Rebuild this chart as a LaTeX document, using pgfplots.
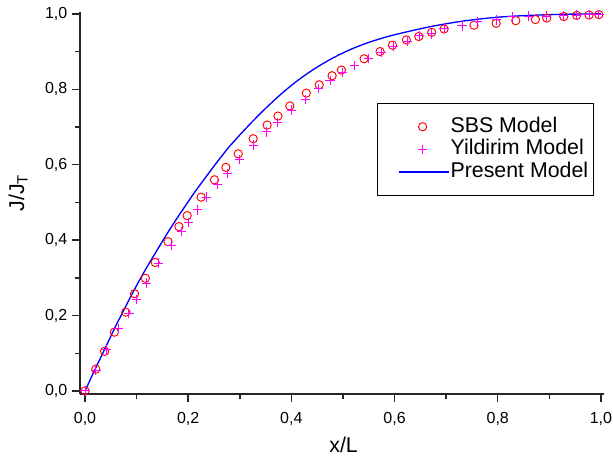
\documentclass[border=0pt]{standalone}
\usepackage{fontspec}
\setmainfont{Liberation Sans}
\usepackage{pgfplots}
\pgfplotsset{compat=1.18}
\definecolor{sbsred}{rgb}{1,0,0}
\definecolor{yilmag}{rgb}{1,0,1}
\definecolor{presblue}{rgb}{0,0,1}
\pgfplotsset{
  markleg/.style={legend image code/.code={\path[draw=none,fill=none] (0pt,0pt) rectangle (50pt,0pt);\draw[##1] plot coordinates {(30.5pt,0pt)};}},
  lineleg/.style={legend image code/.code={\path[draw=none,fill=none] (0pt,0pt) rectangle (50pt,0pt);\draw[##1] (13pt,0pt) -- (50pt,0pt);}}
}
\begin{document}
\begin{tikzpicture}
\useasboundingbox (-60pt,-49.5pt) rectangle (399.75pt,295.5pt);
\begin{axis}[
  scale only axis,
  width=393pt, height=286.5pt,
  at={(0,0)}, anchor=south west,
  xmin=-0.0097, xmax=1.006,
  ymin=-0.008, ymax=1.005,
  axis lines*=left,
  axis line style={line width=1.1pt, color=black!85},
  xtick={0,0.2,...,1.0}, ytick={0,0.2,...,1.0},
  minor x tick num=1, minor y tick num=1,
  tick align=outside,
  major tick length=6pt, minor tick length=4pt,
  every tick/.style={line width=1.1pt, color=black!85},
  /pgf/number format/assume math mode=true,
  /pgf/number format/use comma,
  /pgf/number format/fixed,
  /pgf/number format/fixed zerofill,
  /pgf/number format/precision=1,
  tick label style={font=\fontsize{12}{13}\selectfont},
  xticklabel style={yshift=-4pt},
  xlabel={x/L}, ylabel={J/J\textsubscript{T}},
  label style={font=\fontsize{16}{17}\selectfont},
  xlabel style={at={(rel axis cs:0.503,-0.134)}, anchor=center},
  ylabel style={at={(rel axis cs:-0.118,0.526)}, anchor=center},
  legend style={at={(rel axis cs:0.981,0.762)}, anchor=north east,
    draw=black, line width=0.8pt, inner xsep=3pt, inner ysep=9pt,
    font=\fontsize{16}{17}\selectfont,
    nodes={inner sep=1pt, text height=11.5pt, text depth=3.5pt},
    row sep=0pt},
  legend cell align=left,
]
\addplot[only marks, mark=o, mark size=3.1pt, color=sbsred, mark options={line width=0.7pt}, markleg]
coordinates {
(0,0) (0.021,0.058) (0.038,0.105) (0.057,0.156) (0.079,0.209) (0.096,0.258)
(0.117,0.299) (0.136,0.341) (0.161,0.396) (0.182,0.436) (0.198,0.465)
(0.225,0.514) (0.251,0.560) (0.273,0.593) (0.297,0.629) (0.326,0.669)
(0.353,0.705) (0.374,0.729) (0.397,0.756) (0.429,0.790) (0.454,0.812)
(0.479,0.836) (0.497,0.851) (0.541,0.881) (0.572,0.900) (0.596,0.917)
(0.623,0.931) (0.647,0.940) (0.672,0.951) (0.696,0.960) (0.754,0.970)
(0.797,0.975) (0.835,0.982) (0.873,0.985) (0.895,0.989) (0.928,0.993)
(0.953,0.996) (0.977,0.997) (0.996,0.998)
};
\addlegendentry{SBS Model}
\addplot[only marks, mark=+, mark size=3.5pt, color=yilmag, mark options={solid, line width=0.75pt, draw=yilmag}, markleg]
coordinates {
(0,0) (0.021,0.055) (0.042,0.109) (0.065,0.166) (0.085,0.206) (0.100,0.243)
(0.119,0.286) (0.142,0.339) (0.167,0.385) (0.187,0.423) (0.200,0.447)
(0.218,0.480) (0.236,0.514) (0.257,0.548) (0.276,0.577) (0.299,0.613)
(0.326,0.652) (0.352,0.687) (0.373,0.712) (0.400,0.745) (0.427,0.773)
(0.452,0.803) (0.475,0.823) (0.499,0.844) (0.523,0.864) (0.549,0.882)
(0.574,0.898) (0.598,0.913) (0.625,0.928) (0.648,0.942) (0.672,0.947)
(0.696,0.961) (0.731,0.968) (0.761,0.979) (0.797,0.984) (0.828,0.992)
(0.860,0.994) (0.895,0.994) (0.928,0.996) (0.953,0.997) (0.977,0.998)
(0.996,0.999)
};
\addlegendentry{Yildirim Model}
\addplot[no marks, smooth, color=presblue, line width=1pt, lineleg]
coordinates {
(0,0) (0.019,0.056) (0.039,0.113) (0.058,0.168) (0.078,0.222) (0.097,0.272)
(0.116,0.319) (0.136,0.365) (0.155,0.408) (0.174,0.449) (0.194,0.490)
(0.213,0.528) (0.233,0.565) (0.252,0.600) (0.268,0.628) (0.281,0.650)
(0.313,0.698) (0.346,0.744) (0.378,0.785) (0.410,0.821) (0.442,0.852)
(0.475,0.879) (0.507,0.901) (0.539,0.919) (0.572,0.934) (0.604,0.946)
(0.669,0.966) (0.733,0.981) (0.798,0.991) (0.862,0.996) (0.93,0.999)
(1.0,1.0)
};
\addlegendentry{Present Model}
\end{axis}
\end{tikzpicture}
\end{document}
